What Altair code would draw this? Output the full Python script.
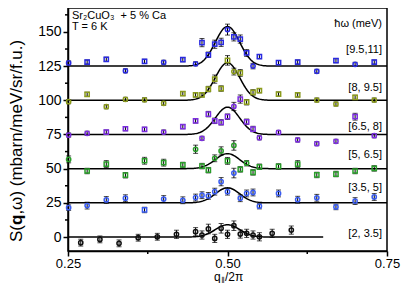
import altair as alt
import numpy as np
import pandas as pd

FONT = "Liberation Sans"

# q_par / 2pi positions shared by the five upper energy windows
Q = [0.251, 0.28, 0.31, 0.34, 0.37, 0.40, 0.43, 0.45, 0.46, 0.47, 0.48, 0.49,
     0.50, 0.51, 0.52, 0.53, 0.54, 0.55, 0.58, 0.61, 0.64, 0.67, 0.70, 0.73]
# positions of the lowest window [2, 3.5]
Q_LOW = [0.27, 0.30, 0.33, 0.36, 0.39, 0.42, 0.45, 0.46, 0.47, 0.48, 0.49, 0.50,
         0.51, 0.52, 0.53, 0.54, 0.55, 0.57, 0.60]

NAMES = ["[2, 3.5]", "[3.5, 5]", "[5, 6.5]", "[6.5, 8]", "[8, 9.5]", "[9.5,11]"]
COLORS = ["#111111", "#3a5cf0", "#2a9d2a", "#7c2ee0", "#8c9c1c", "#2a2ae0"]

Y_2_35 = [-4.1, -1.7, -4.6, -0.5, 0.2, 2.0, 3.9, 1.5, 5.9, -1.0, 6.4, 2.0, 8.3,
          2.2, 2.7, 1.5, 0.2, 2.7, 5.1]
E_2_35 = [2.5, 2.5, 2.5, 2.5, 2.5, 3.0, 3.0, 3.0, 3.5, 3.0, 3.5, 3.0, 3.5,
          3.0, 3.0, 3.0, 3.0, 3.0, 3.0]
M_2_35 = "ccccccccccccccccccc"

Y_35_5 = [21.5, 23.0, 27.1, 28.4, 19.8, 27.8, 26.9, 28.9, 30.6, 30.1, 33.2, 40.5,
          33.2, 46.8, 28.4, 31.9, 32.6, 22.6, 31.9, 27.3, 28.7, 22.0, 26.3, 29.3]
E_35_5 = [2.0, 2.5, 2.5, 2.5, 2.0, 2.5, 2.5, 2.5, 2.5, 2.5, 2.5, 3.0,
          2.5, 3.5, 2.5, 2.5, 2.5, 2.0, 2.5, 2.5, 2.5, 2.0, 2.5, 2.5]
M_35_5 = "ccccsccccccccccccccccccc"

Y_5_65 = [56.8, 48.3, 53.4, 45.2, 55.8, 54.4, 52.7, 64.2, 51.9, 48.9, 57.6, 63.0,
          55.7, 67.0, 49.5, 54.0, 47.3, 51.4, 51.6, 53.4, 45.4, 46.1, 48.3, 50.2]
E_5_65 = [2.5, 2.0, 2.5, 2.0, 2.5, 2.5, 2.0, 3.0, 2.0, 2.0, 2.5, 3.0,
          2.5, 3.5, 2.0, 2.0, 2.0, 2.0, 2.0, 2.5, 2.0, 2.0, 2.0, 2.0]
M_5_65 = "csssssscssccscscssssssss"

Y_65_8 = [74.6, 75.9, 76.8, 79.2, 78.8, 76.8, 80.7, 84.9, 72.2, 89.9, 85.0, 83.9,
          88.0, 95.5, 100.9, 84.3, 79.0, 72.6, 76.5, 71.0, 68.3, 70.0, 88.0, 74.1]
E_65_8 = [1.5, 1.5, 1.5, 1.5, 1.5, 1.5, 1.5, 1.5, 1.5, 2.0, 2.0, 2.0,
          2.0, 3.0, 3.0, 2.0, 2.0, 1.5, 1.5, 1.5, 1.5, 1.5, 2.5, 1.5]
M_65_8 = "ccssscsscsssscssscccccsc"

Y_8_95 = [99.0, 104.4, 95.3, 100.7, 100.4, 97.8, 104.9, 103.9, 103.9, 108.2, 115.5, 108.6,
          129.2, 121.0, 120.0, 98.6, 105.8, 107.0, 104.6, 103.9, 100.2, 97.3, 102.2, 100.2]
E_8_95 = [1.5, 1.5, 1.5, 1.5, 1.5, 1.5, 1.5, 1.5, 1.5, 2.0, 3.0, 2.0,
          3.5, 2.5, 2.5, 2.0, 2.0, 1.5, 1.5, 1.5, 1.5, 1.5, 1.5, 1.5]
M_8_95 = "csccccssssssscssssssccsc"

Y_95_11 = [127.3, 128.0, 130.0, 121.6, 128.5, 127.8, 129.7, 126.7, 142.2, 133.3, 141.0, 142.4,
           151.7, 146.4, 144.8, 134.6, 125.0, 132.0, 127.6, 128.0, 121.2, 129.0, 126.3, 128.0]
E_95_11 = [1.5, 1.5, 1.5, 1.5, 1.5, 1.5, 1.5, 1.5, 3.0, 2.0, 3.0, 3.0,
           4.0, 3.0, 3.0, 2.5, 2.0, 1.5, 1.5, 1.5, 1.5, 1.5, 1.5, 1.5]
M_95_11 = "csscscscsssscssscssscscs"

# Gaussian fits: baseline offset, amplitude, end of line
FIT_BASE = [0, 25, 50, 75, 100, 125]
FIT_AMP = [9, 11, 11, 20, 27.5, 29]
FIT_XEND = [0.65, 0.75, 0.75, 0.75, 0.75, 0.75]
FIT_CENTER = 0.50
FIT_SIGMA = 0.019

Y_TICKS = [0, 25, 50, 75, 100, 125, 150]
Y_MINOR = [12.5, 37.5, 62.5, 87.5, 112.5, 137.5, 162.5]
X_TICKS = [0.25, 0.50, 0.75]
X_MINOR = [0.375, 0.625]

series = [
    (Q_LOW, Y_2_35, E_2_35, M_2_35),
    (Q, Y_35_5, E_35_5, M_35_5),
    (Q, Y_5_65, E_5_65, M_5_65),
    (Q, Y_65_8, E_65_8, M_65_8),
    (Q, Y_8_95, E_8_95, M_8_95),
    (Q, Y_95_11, E_95_11, M_95_11),
]

rows = []
for name, (xs, ys, es, ms) in zip(NAMES, series):
    for x, y, e, m in zip(xs, ys, es, ms):
        rows.append({"s": name, "q": x, "v": y, "lo": y - e, "hi": y + e, "m": m})
pts = pd.DataFrame(rows)

fit_rows = []
for name, b, a, xe in zip(NAMES, FIT_BASE, FIT_AMP, FIT_XEND):
    for x in np.linspace(0.25, xe, 301):
        fit_rows.append({"s": name, "q": float(x),
                         "v": b + a * float(np.exp(-((x - FIT_CENTER) ** 2) / (2 * FIT_SIGMA ** 2)))})
fits = pd.DataFrame(fit_rows)

W, H = 319, 243
xs_ = alt.Scale(domain=[0.25, 0.75], nice=False, zero=False)
ys_ = alt.Scale(domain=[-10.2, 167.5], nice=False, zero=False)

x_axis = alt.Axis(values=X_TICKS, format=".2f", title=None, grid=False, tickSize=5,
                  tickWidth=1.5, domainWidth=1.5, labelFontSize=13, labelPadding=1,
                  labelFlush=False, labelOverlap=False, labelFont=FONT,
                  domainColor="black", tickColor="black", labelColor="black")
y_axis = alt.Axis(values=Y_TICKS, title=None, grid=False, tickSize=5, tickWidth=1.5,
                  domainWidth=1.5, labelFontSize=14, labelPadding=2, labelFont=FONT,
                  labelOverlap=False, domainColor="black", tickColor="black",
                  labelColor="black")


def X(field):
    return alt.X(field, scale=xs_, axis=x_axis, title=None)


def Y(field):
    return alt.Y(field, scale=ys_, axis=y_axis, title=None)


fit_layer = alt.Chart(fits).mark_line(color="black", strokeWidth=1.5).encode(
    x=X("q:Q"), y=Y("v:Q"), detail="s:N",
)

err_layer = alt.Chart(pts).mark_rule(color="black", strokeWidth=1).encode(
    x=X("q:Q"), y=Y("lo:Q"), y2="hi:Q",
)
cap_lo = alt.Chart(pts).mark_tick(orient="horizontal", size=5, thickness=1, color="black").encode(
    x=X("q:Q"), y=Y("lo:Q"),
)
cap_hi = alt.Chart(pts).mark_tick(orient="horizontal", size=5, thickness=1, color="black").encode(
    x=X("q:Q"), y=Y("hi:Q"),
)

pt_layer = alt.Chart(pts).mark_point(filled=False, size=18, strokeWidth=1.5, opacity=1).encode(
    x=X("q:Q"), y=Y("v:Q"),
    color=alt.Color("s:N", scale=alt.Scale(domain=NAMES, range=COLORS), legend=None),
    shape=alt.Shape("m:N", scale=alt.Scale(domain=["c", "s"], range=["circle", "square"]), legend=None),
)

ymin_layer = alt.Chart(pd.DataFrame({"t": Y_MINOR})).mark_rule(color="black", strokeWidth=1.5).encode(
    y=Y("t:Q"), x=alt.value(-3), x2=alt.value(0))
xmin_layer = alt.Chart(pd.DataFrame({"t": X_MINOR})).mark_rule(color="black", strokeWidth=1.5).encode(
    x=X("t:Q"), y=alt.value(H), y2=alt.value(H + 3))


def label(txt, x, y, size=11, align="left", baseline="alphabetic", angle=0, weight="normal"):
    return alt.Chart(pd.DataFrame({"t": [txt]})).mark_text(
        align=align, baseline=baseline, fontSize=size, font=FONT, angle=angle,
        fontWeight=weight, color="black").encode(
        text="t:N", x=alt.value(x), y=alt.value(y))


LABEL_Y = [226, 180, 147, 119, 80, 42]
texts = [label(n, 314, yy, baseline="middle", align="right") for n, yy in zip(NAMES, LABEL_Y)]
texts.append(label("ħω (meV)", 314, 16, baseline="middle", align="right"))
texts.append(label("Sr\u2082CuO\u2083\u00a0 + 5 % Ca", 4, 11))
texts.append(label("T = 6 K", 4, 21.5))

# y title: S(q,ω) (mbarn/meV/sr/f.u.) with bold q
YT = 17
YX = -46
texts.append(label("S(", YX, 234, size=YT, angle=270))
texts.append(label("q", YX, 234 - 1.0 * YT, size=YT, angle=270, weight="bold"))
texts.append(label(",ω) (mbarn/meV/sr/f.u.)", YX, 234 - 1.611 * YT, size=YT, angle=270))

# x title: q∥/2π
texts.append(label("q", 146, 272.5, size=12))
texts.append(label("∥", 152.8, 274.5, size=8))
texts.append(label("/2π", 157, 272.5, size=12))

chart = alt.layer(fit_layer, err_layer, cap_lo, cap_hi, pt_layer, ymin_layer, xmin_layer, *texts).properties(
    width=W, height=H,
    autosize=alt.AutoSizeParams(type="none"),
    padding={"left": 60, "top": 0, "right": 20, "bottom": 32},
).configure_view(stroke="black", strokeWidth=1.5)

chart.save("out.html", embed_options={"renderer": "svg", "actions": False})
